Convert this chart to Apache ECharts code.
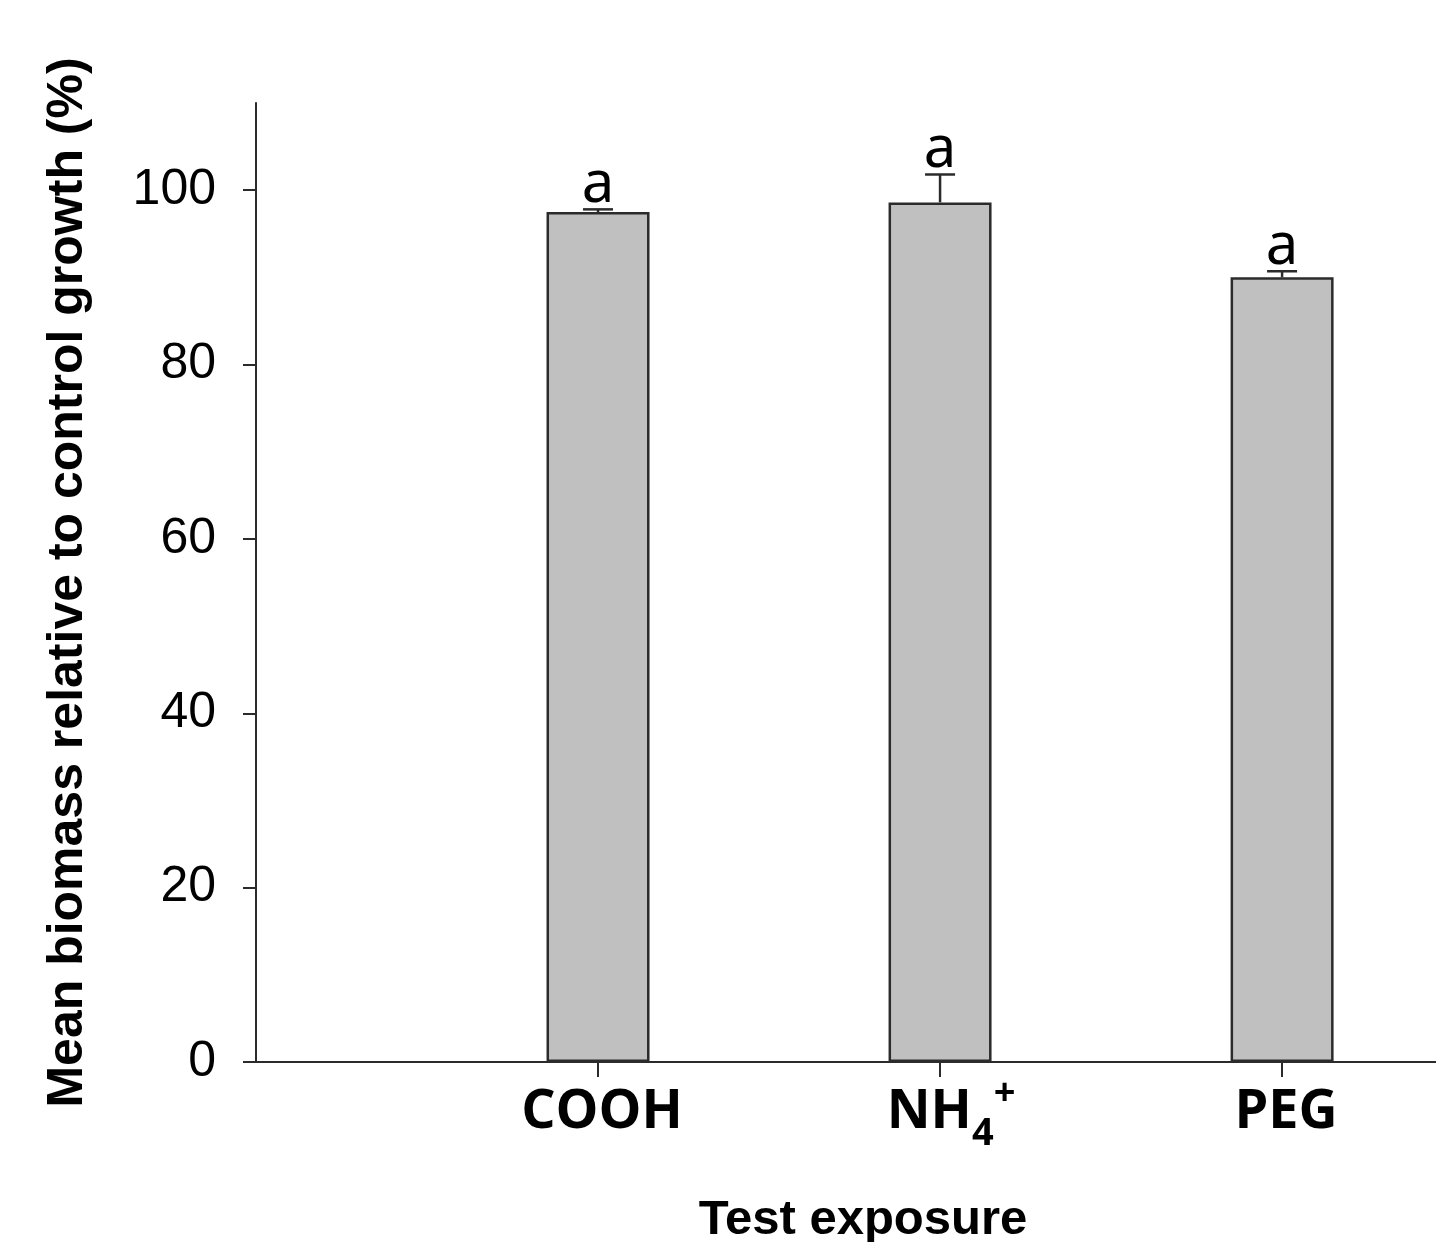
<!DOCTYPE html>
<html>
<head>
<meta charset="utf-8">
<script src="https://cdn.jsdelivr.net/npm/echarts@6/dist/echarts.min.js"></script>
<style>
html,body{margin:0;padding:0;background:#fff;}
#chart{width:1436px;height:1242px;}
</style>
</head>
<body>
<div id="chart"></div>
<script>
var categories = ['COOH', 'NH4+', 'PEG'];
var meanValues = [97.5, 98.6, 90.0];
var errorUpper = [97.8, 101.8, 90.7];
var letters = ['a', 'a', 'a'];
var yTicks = [0, 20, 40, 60, 80, 100];
var xPositions = [1, 2, 3];

var barData = categories.map(function (c, i) { return [xPositions[i], meanValues[i]]; });
var errData = categories.map(function (c, i) { return [xPositions[i], meanValues[i], errorUpper[i]]; });
var letterData = categories.map(function (c, i) { return [xPositions[i], errorUpper[i]]; });

function catLabel(v) {
  var idx = xPositions.indexOf(v);
  if (idx < 0) return '';
  var name = categories[idx];
  if (name === 'NH4+') return '{g2|}{n|NH}{sub|4}{sup|+}';
  return '{g1|}{n|' + name + '}';
}

var chart = echarts.init(document.getElementById('chart'));
chart.setOption({
  animation: false,
  backgroundColor: '#fff',
  grid: { left: 256, right: 0, top: 103, bottom: 180, containLabel: false, outerBoundsMode: 'none' },
  xAxis: {
    type: 'value', min: 0, max: 3.45,
    name: 'Test exposure', nameLocation: 'middle', nameGap: 134,
    nameTextStyle: { fontFamily: 'Liberation Sans', fontWeight: 'bold', fontSize: 49, color: '#000', padding: [0, 0, 0, 34] },
    axisLine: { show: true, onZero: false, lineStyle: { color: '#2b2b2b', width: 2 } },
    axisTick: { show: true, customValues: xPositions, length: 15, lineStyle: { color: '#2b2b2b', width: 2 } },
    axisLabel: {
      show: true, customValues: xPositions, margin: 12, formatter: catLabel,
      rich: {
        g1: { width: 8, lineHeight: 78 },
        g2: { width: 22, lineHeight: 78 },
        n: { fontFamily: 'Open Sans', fontWeight: 'bold', fontSize: 54, lineHeight: 78, color: '#000' },
        sub: { fontFamily: 'Open Sans', fontWeight: 'bold', fontSize: 38, lineHeight: 38, padding: [42, 0, 0, 0], color: '#000' },
        sup: { fontFamily: 'Open Sans', fontWeight: 'bold', fontSize: 38, lineHeight: 38, padding: [0, 0, 38, 0], color: '#000' }
      }
    },
    splitLine: { show: false }
  },
  yAxis: {
    type: 'value', min: 0, max: 110, interval: 20,
    name: 'Mean biomass relative to control growth (%)', nameLocation: 'middle', nameGap: 163,
    nameTextStyle: { fontFamily: 'Liberation Sans', fontWeight: 'bold', fontSize: 50, color: '#000' },
    axisLine: { show: true, lineStyle: { color: '#2b2b2b', width: 2 } },
    axisTick: { show: true, customValues: yTicks, length: 13, lineStyle: { color: '#2b2b2b', width: 2 } },
    axisLabel: { show: true, customValues: yTicks, margin: 40, fontFamily: 'Liberation Sans', fontSize: 50, color: '#000' },
    splitLine: { show: false }
  },
  series: [
    {
      type: 'bar', data: barData, barWidth: 103,
      itemStyle: { color: '#c0c0c0', borderColor: '#2b2b2b', borderWidth: 2.5 },
      z: 2
    },
    {
      type: 'custom', data: errData, z: 3,
      renderItem: function (params, api) {
        var x = api.value(0);
        var base = api.coord([x, api.value(1)]);
        var top = api.coord([x, api.value(2)]);
        var half = 15;
        return {
          type: 'group',
          children: [
            { type: 'line', shape: { x1: base[0], y1: base[1], x2: top[0], y2: top[1] }, style: { stroke: '#2b2b2b', lineWidth: 2.5 } },
            { type: 'line', shape: { x1: top[0] - half, y1: top[1], x2: top[0] + half, y2: top[1] }, style: { stroke: '#2b2b2b', lineWidth: 2.5 } }
          ]
        };
      }
    },
    {
      type: 'scatter', data: letterData, symbolSize: 0, itemStyle: { color: '#000' }, z: 4,
      label: {
        show: true, position: 'top', distance: -5,
        formatter: function (p) { return letters[p.dataIndex]; },
        fontFamily: 'Noto Sans', fontWeight: 'normal', fontSize: 58, color: '#000', opacity: 1
      }
    }
  ]
});
</script>
</body>
</html>
